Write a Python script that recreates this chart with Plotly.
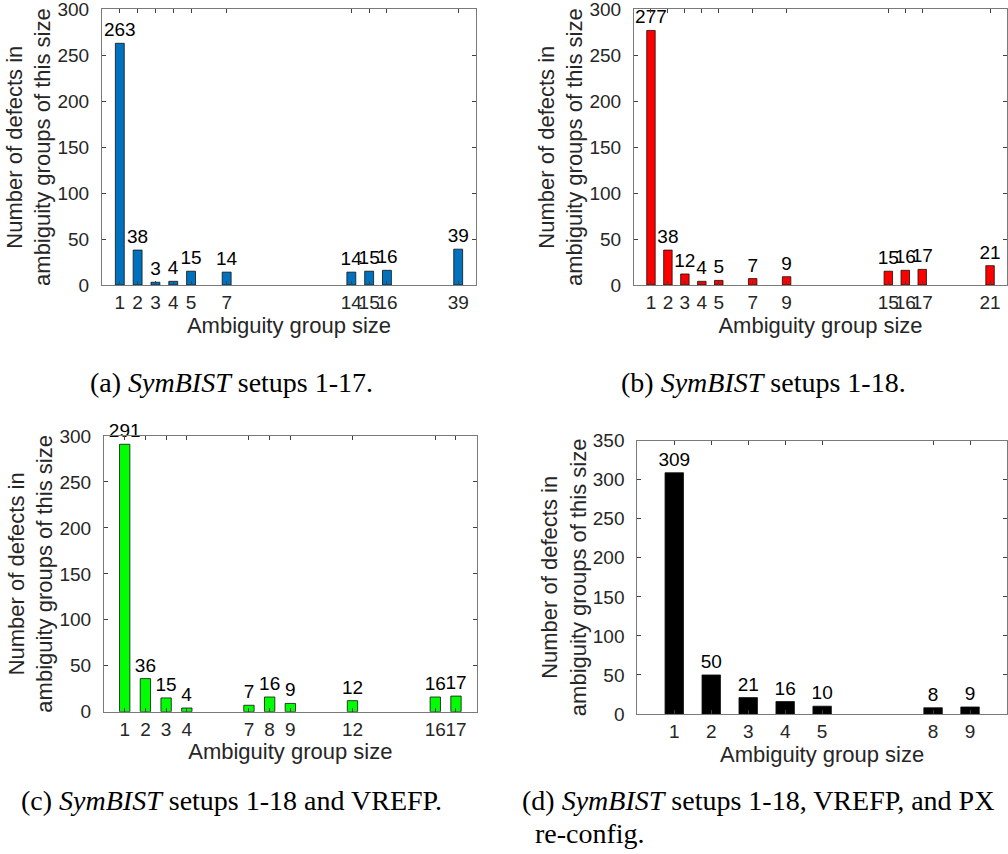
import plotly.graph_objects as go

# ---------------- data ----------------
a_sizes = [1, 2, 3, 4, 5, 7, 14, 15, 16, 39]
a_counts = [263, 38, 3, 4, 15, 14, 14, 15, 16, 39]
a_slots = [1, 2, 3, 4, 5, 7, 14, 15, 16, 20]

b_sizes = [1, 2, 3, 4, 5, 7, 9, 15, 16, 17, 21]
b_counts = [277, 38, 12, 4, 5, 7, 9, 15, 16, 17, 21]
b_slots = [1, 2, 3, 4, 5, 7, 9, 15, 16, 17, 21]

c_sizes = [1, 2, 3, 4, 7, 8, 9, 12, 16, 17]
c_counts = [291, 36, 15, 4, 7, 16, 9, 12, 16, 17]
c_slots = [1, 2, 3, 4, 7, 8, 9, 12, 16, 17]

d_sizes = [1, 2, 3, 4, 5, 8, 9]
d_counts = [309, 50, 21, 16, 10, 8, 9]
d_slots = [1, 2, 3, 4, 5, 8, 9]

captions = [
    "(a) <i>SymBIST</i> setups 1-17.",
    "(b) <i>SymBIST</i> setups 1-18.",
    "(c) <i>SymBIST</i> setups 1-18 and VREFP.",
    "(d) <i>SymBIST</i> setups 1-18, VREFP, and PX",
    "re-config.",
]
x_title = "Ambiguity group size"
y_title = "Number of defects in<br>ambiguity groups of this size"

W, H = 1008, 854
SANS = "Liberation Sans, Arial, Helvetica, sans-serif"
SERIF = "Liberation Serif, Times New Roman, serif"
TXT = "#262626"
LINE = "#7a7a7a"
TICKC = "#404040"
TICK_FS = 19
LABEL_FS = 22

panels = [
    dict(sizes=a_sizes, counts=a_counts, slots=a_slots, color="#0072BD",
         xr=[0, 21], yr=[0, 300], ydt=50,
         px=(102, 476), py=(9.3, 285)),
    dict(sizes=b_sizes, counts=b_counts, slots=b_slots, color="#FF0000",
         xr=[0, 22], yr=[0, 300], ydt=50,
         px=(634, 1007), py=(9.3, 285)),
    dict(sizes=c_sizes, counts=c_counts, slots=c_slots, color="#00FF00",
         xr=[0, 18], yr=[0, 300], ydt=50,
         px=(104, 476.7), py=(436, 711.7)),
    dict(sizes=d_sizes, counts=d_counts, slots=d_slots, color="#000000",
         xr=[0, 10], yr=[0, 350], ydt=50,
         px=(637.3, 1007), py=(440.7, 714)),
]

fig = go.Figure()
layout = dict(
    width=W, height=H,
    margin=dict(l=0, r=0, t=0, b=0, autoexpand=False),
    paper_bgcolor="white", plot_bgcolor="white",
    showlegend=False,
    font=dict(family=SANS, color=TXT, size=TICK_FS),
)

for i, p in enumerate(panels):
    n = "" if i == 0 else str(i + 1)
    xa, ya = "x" + n, "y" + n
    fig.add_trace(go.Bar(
        x=p["slots"], y=p["counts"], width=0.5,
        marker=dict(color=p["color"], line=dict(color="#111111", width=0.8)),
        text=[str(v) for v in p["counts"]], textposition="outside",
        textfont=dict(family=SANS, size=TICK_FS, color="black"),
        cliponaxis=False, constraintext="none",
        xaxis=xa, yaxis=ya, hoverinfo="skip",
    ))
    x0, x1 = p["px"]
    y0, y1 = p["py"]
    layout["xaxis" + n] = dict(
        domain=[x0 / W, x1 / W], anchor=ya, range=p["xr"],
        tickmode="array", tickvals=p["slots"],
        ticktext=[str(s) for s in p["sizes"]], tickangle=0,
        ticks="inside", ticklen=4, tickcolor=TICKC,
        showline=True, linecolor=LINE, linewidth=1, mirror="ticks",
        showgrid=False, zeroline=False, automargin=False,
        tickfont=dict(family=SANS, size=TICK_FS, color=TXT),
        ticklabelstandoff=0, ticklabeloverflow="allow",
        title=dict(text=x_title, font=dict(family=SANS, size=LABEL_FS, color=TXT),
                   standoff=2),
    )
    layout["yaxis" + n] = dict(
        domain=[1 - y1 / H, 1 - y0 / H], anchor=xa, range=p["yr"],
        tickmode="linear", tick0=0, dtick=p["ydt"],
        ticks="inside", ticklen=4, tickcolor=TICKC,
        showline=True, linecolor=LINE, linewidth=1, mirror="ticks",
        showgrid=False, zeroline=False, automargin=False,
        tickfont=dict(family=SANS, size=TICK_FS, color=TXT),
        ticklabelstandoff=8, ticklabeloverflow="allow",
        title=dict(text=y_title, font=dict(family=SANS, size=LABEL_FS, color=TXT),
                   standoff=0),
    )

cap_font = dict(family=SERIF, size=28, color="black")
ann = [
    dict(text=captions[0], x=231.5 / W, y=1 - 383 / H, xanchor="center", yanchor="middle"),
    dict(text=captions[1], x=763 / W, y=1 - 383 / H, xanchor="center", yanchor="middle"),
    dict(text=captions[2], x=231 / W, y=1 - 800 / H, xanchor="center", yanchor="middle"),
    dict(text=captions[3], x=520 / W, y=1 - 800 / H, xanchor="left", yanchor="middle"),
    dict(text=captions[4], x=533 / W, y=1 - 833 / H, xanchor="left", yanchor="middle"),
]
layout["annotations"] = [dict(a, xref="paper", yref="paper", showarrow=False, font=cap_font) for a in ann]

fig.update_layout(**layout)
fig.write_html(
    "out.html",
    config={"displayModeBar": False},
    post_script="document.body.style.margin='0';document.body.style.overflow='hidden';",
)
